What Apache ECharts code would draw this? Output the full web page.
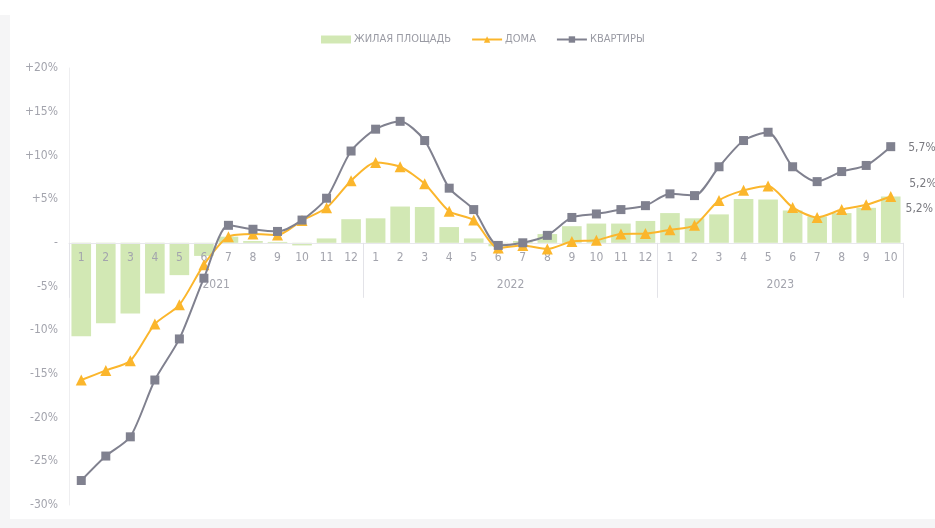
<!DOCTYPE html>
<html><head><meta charset="utf-8">
<script src="https://cdn.jsdelivr.net/npm/echarts@6/dist/echarts.min.js"></script>
<style>
html,body{margin:0;padding:0;background:#fff;}
#frameL{position:absolute;left:0;top:15px;width:10px;height:513px;background:#f5f5f6;}
#frameB{position:absolute;left:0;top:519px;width:935px;height:9px;background:#f5f5f6;}
#chart{position:absolute;left:0;top:0;width:935px;height:528px;}
</style></head>
<body>
<div id="frameL"></div><div id="frameB"></div>
<div id="chart"></div>
<script>
const seriesNames = ['ЖИЛАЯ ПЛОЩАДЬ', 'ДОМА', 'КВАРТИРЫ'];
const years = ['2021', '2022', '2023'];
const yearMonthCounts = [12, 12, 10];
const months = ['1','2','3','4','5','6','7','8','9','10','11','12',
                '1','2','3','4','5','6','7','8','9','10','11','12',
                '1','2','3','4','5','6','7','8','9','10'];
const area = [-10.7,-9.2,-8.1,-5.8,-3.7,-1.5,0.7,0.2,0.1,-0.3,0.5,2.7,
              2.8,4.15,4.1,1.8,0.5,-0.4,0.2,1.0,1.9,2.2,2.2,2.5,
              3.4,2.8,3.25,5.0,4.95,3.7,3.0,3.4,4.0,5.3];
const houses = [-15.7,-14.6,-13.5,-9.3,-7.1,-2.5,0.7,1.0,0.9,2.55,4.0,7.1,
                9.2,8.7,6.75,3.6,2.6,-0.6,-0.3,-0.7,0.15,0.3,1.0,1.05,
                1.5,2.0,4.85,6.0,6.5,4.05,2.9,3.8,4.35,5.3];
const flats = [-27.2,-24.4,-22.2,-15.7,-11.0,-4.05,2.0,1.55,1.3,2.6,5.1,10.5,
               13.0,13.9,11.7,6.25,3.8,-0.3,0,0.85,2.9,3.3,3.8,4.25,
               5.6,5.4,8.7,11.7,12.65,8.7,7.0,8.15,8.85,11.0];
const endLabels = ['5,2%', '5,2%', '5,7%'];
const yMin = -30, yMax = 20, yStep = 5;

const FONT = "'Liberation Sans Narrow','DejaVu Sans Condensed','Roboto',sans-serif";
const TXT = '#a3a4ad';

const W = 935, H = 528;
const G = {left: 69, right: 32, top: 68, bottom: 23};
const gridH = H - G.top - G.bottom;
const zeroOffset = -gridH * (0 - yMin) / (yMax - yMin);

const yearBounds = [0];
yearMonthCounts.forEach(c => yearBounds.push(yearBounds[yearBounds.length-1] + c));
const yearCenters = years.map((y,i) => (yearBounds[i] + yearBounds[i+1]) / 2);

function withEndLabel(arr, text, lbl) {
  return arr.map((v, i) => i === arr.length - 1
    ? {value: v, label: Object.assign({show: true, formatter: text, color: '#7a7a80', fontSize: 12, fontFamily: FONT}, lbl)}
    : v);
}

const chart = echarts.init(document.getElementById('chart'), null, {renderer: 'canvas', width: W, height: H});
chart.setOption({
  animation: false,
  backgroundColor: 'transparent',
  textStyle: {fontFamily: FONT},
  legend: {
    top: 29, left: 316, itemGap: 20, itemWidth: 30, itemHeight: 8,
    textStyle: {color: '#9a9ba4', fontSize: 11, fontFamily: FONT, padding: [0, 0, 0, -2]},
    data: [
      {name: seriesNames[0], icon: 'rect'},
      {name: seriesNames[1]},
      {name: seriesNames[2]}
    ]
  },
  grid: Object.assign({containLabel: false, outerBoundsMode: 'none'}, G),
  xAxis: [{
    type: 'category', data: months, z: 3, position: 'bottom', offset: zeroOffset,
    axisLine: {onZero: false, lineStyle: {color: '#e8e8ec', width: 1}},
    axisTick: {show: false},
    axisLabel: {color: TXT, fontSize: 12, margin: 9, interval: 0, fontFamily: FONT},
    splitLine: {show: false}
  }, {
    type: 'value', min: 0, max: months.length, z: 3, position: 'bottom', offset: zeroOffset,
    axisLine: {show: false, onZero: false},
    axisTick: {show: true, customValues: yearBounds, length: 55, lineStyle: {color: '#e3e3e8'}},
    axisLabel: {show: true, customValues: yearCenters, color: TXT, fontSize: 12, margin: 36, fontFamily: FONT,
      formatter: v => { const i = yearCenters.indexOf(v); return i >= 0 ? years[i] : ''; }},
    splitLine: {show: false}
  }],
  yAxis: {
    type: 'value', min: yMin, max: yMax, interval: yStep,
    axisLine: {show: true, lineStyle: {color: '#eeeef0'}},
    axisTick: {show: false},
    splitLine: {show: false},
    axisLabel: {color: TXT, fontSize: 12, margin: 11, fontFamily: FONT,
      formatter: v => v > 0 ? '+' + v + '%' : (v === 0 ? '-' : v + '%')}
  },
  series: [{
    name: seriesNames[0], type: 'bar', xAxisIndex: 0, barWidth: '80%', z: 2,
    itemStyle: {color: '#d2e8b4'},
    data: withEndLabel(area, endLabels[0], {position: 'right', distance: 5, offset: [0, -11]})
  }, {
    name: seriesNames[1], type: 'line', xAxisIndex: 0, smooth: 0.25, z: 4,
    symbol: 'triangle', symbolSize: 11,
    lineStyle: {color: '#fbb62c', width: 2},
    itemStyle: {color: '#fbb62c'},
    data: withEndLabel(houses, endLabels[1], {position: 'right', distance: 13, offset: [0, -13]})
  }, {
    name: seriesNames[2], type: 'line', xAxisIndex: 0, smooth: 0.25, z: 5,
    symbol: 'rect', symbolSize: 9,
    lineStyle: {color: '#80818f', width: 2},
    itemStyle: {color: '#80818f'},
    data: withEndLabel(flats, endLabels[2], {position: 'right', distance: 13, offset: [0, 1]})
  }]
});
</script>
</body></html>
